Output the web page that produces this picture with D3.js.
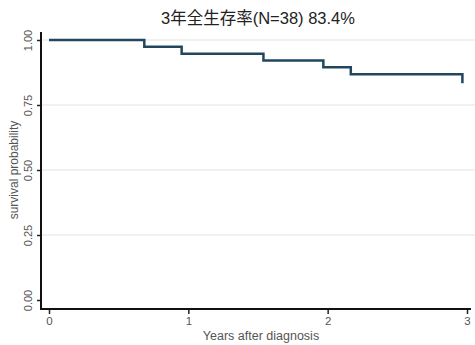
<!DOCTYPE html>
<html>
<head>
<meta charset="utf-8">
<script src="https://cdn.jsdelivr.net/npm/d3@7/dist/d3.min.js"></script>
<style>
  html, body { margin: 0; padding: 0; background: #fff; }
  svg { display: block; }
  text { font-family: "Liberation Sans", Arial, sans-serif; }
</style>
</head>
<body>
<svg id="chart" width="475" height="345"></svg>
<script>
// Kaplan-Meier step data: event times (years) and survival after each event
const eventTimes = [0, 0.684, 0.952, 1.539, 1.969, 2.166, 2.967];
const survival   = [1.0, 0.974, 0.947, 0.921, 0.895, 0.868, 0.834];
const xTicks = [0, 1, 2, 3];
const yTicks = [0, 0.25, 0.5, 0.75, 1.0];
const titleText = "3年全生存率(N=38) 83.4%";
const xLabel = "Years after diagnosis";
const yLabel = "survival probability";

const svg = d3.select("#chart");

const x = d3.scaleLinear().domain([0, 3]).range([49, 467]);
const y = d3.scaleLinear().domain([0, 1]).range([300, 40]);

const axisX0 = 41, axisY0 = 309;

// horizontal grid lines
svg.append("g")
  .selectAll("line")
  .data(yTicks.filter(d => d > 0))
  .join("line")
  .attr("x1", axisX0).attr("x2", 475)
  .attr("y1", d => y(d)).attr("y2", d => y(d))
  .attr("stroke", "#ececec").attr("stroke-width", 1.5);

// y axis
const yAxis = svg.append("g")
  .attr("transform", `translate(${axisX0},0)`)
  .call(d3.axisLeft(y).tickValues(yTicks).tickFormat(d3.format(".2f")).tickSize(4).tickSizeOuter(0));
yAxis.select(".domain").remove();
yAxis.selectAll(".tick line").attr("stroke", "#222").attr("stroke-width", 1.5);
yAxis.selectAll(".tick text")
  .attr("transform", "rotate(-90)")
  .attr("x", 0).attr("y", -9)
  .attr("dy", "0")
  .attr("text-anchor", "middle")
  .attr("font-size", 11)
  .attr("fill", "#555");
svg.append("line")
  .attr("x1", axisX0).attr("x2", axisX0)
  .attr("y1", 32).attr("y2", axisY0 + 1)
  .attr("stroke", "#111").attr("stroke-width", 2);

// x axis
const xAxis = svg.append("g")
  .attr("transform", `translate(0,${axisY0})`)
  .call(d3.axisBottom(x).tickValues(xTicks).tickFormat(d3.format("d")).tickSize(5).tickSizeOuter(0));
xAxis.select(".domain").remove();
xAxis.selectAll(".tick line").attr("stroke", "#222").attr("stroke-width", 1.5);
xAxis.selectAll(".tick text")
  .attr("y", 8)
  .attr("font-size", 11.5)
  .attr("fill", "#555");
svg.append("line")
  .attr("x1", axisX0).attr("x2", 471)
  .attr("y1", axisY0).attr("y2", axisY0)
  .attr("stroke", "#111").attr("stroke-width", 2);

// survival step curve
const pts = eventTimes.map((t, i) => [t, survival[i]]);
const line = d3.line()
  .x(d => x(d[0]))
  .y(d => y(d[1]))
  .curve(d3.curveStepAfter);
svg.append("path")
  .datum(pts)
  .attr("d", line)
  .attr("fill", "none")
  .attr("stroke", "#23465f")
  .attr("stroke-width", 2.5);

// titles
svg.append("text")
  .attr("x", 258).attr("y", 24)
  .attr("text-anchor", "middle")
  .attr("font-size", 16.5)
  .attr("fill", "#222")
  .style("font-family", "'Liberation Sans', 'Noto Sans CJK JP', 'Noto Sans CJK SC', sans-serif")
  .text(titleText);

svg.append("text")
  .attr("x", 261).attr("y", 340)
  .attr("text-anchor", "middle")
  .attr("font-size", 12.5)
  .attr("fill", "#555")
  .text(xLabel);

svg.append("text")
  .attr("transform", "translate(18,170) rotate(-90)")
  .attr("text-anchor", "middle")
  .attr("font-size", 12)
  .attr("fill", "#555")
  .text(yLabel);
</script>
</body>
</html>
